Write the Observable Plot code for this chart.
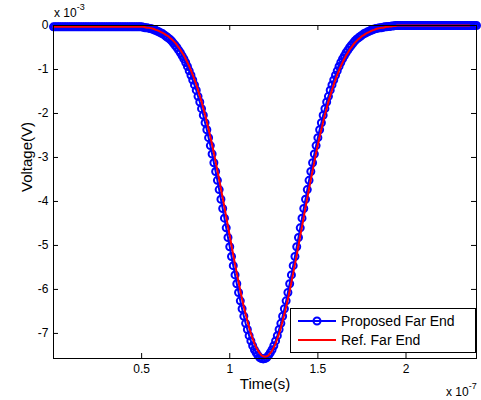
<!DOCTYPE html>
<html><head><meta charset="utf-8">
<script src="https://cdn.jsdelivr.net/npm/d3@7"></script>
<script src="https://cdn.jsdelivr.net/npm/@observablehq/plot@0.6"></script>
<style>body{margin:0;background:#fff;}</style>
</head><body><div id="chart"></div>
<script>
// sample times in ns (1 ns step, 0..240 ns)
const timeNs = d3.range(0, 241);
// Proposed Far End, mV
const proposedMV = [
-0.03,-0.03,-0.03,-0.03,-0.03,-0.03,-0.03,-0.03,-0.03,-0.03,
-0.03,-0.03,-0.03,-0.03,-0.03,-0.03,-0.03,-0.03,-0.03,-0.03,
-0.03,-0.03,-0.03,-0.03,-0.03,-0.03,-0.03,-0.03,-0.03,-0.03,
-0.03,-0.03,-0.03,-0.03,-0.03,-0.03,-0.03,-0.03,-0.03,-0.03,
-0.03,-0.03,-0.03,-0.03,-0.03,-0.03,-0.03,-0.03,-0.03,
-0.03,-0.03,-0.04,-0.05,-0.05,-0.06,-0.07,-0.08,-0.10,-0.11,
-0.13,-0.15,-0.17,-0.19,-0.22,-0.25,-0.28,-0.31,-0.35,-0.40,
-0.45,-0.50,-0.56,-0.62,-0.69,-0.76,-0.84,-0.93,-1.03,-1.13,
-1.24,-1.35,-1.47,-1.61,-1.74,-1.89,-2.04,-2.21,-2.37,-2.55,
-2.73,-2.92,-3.12,-3.32,-3.52,-3.73,-3.95,-4.16,-4.38,-4.60,
-4.82,-5.03,-5.25,-5.46,-5.67,-5.87,-6.07,-6.26,-6.44,-6.61,
-6.77,-6.91,-7.05,-7.17,-7.28,-7.37,-7.44,-7.50,-7.55,-7.57,
-7.58,
-7.57,-7.55,-7.50,-7.44,-7.37,-7.28,-7.17,-7.05,-6.91,-6.77,
-6.61,-6.44,-6.26,-6.07,-5.87,-5.67,-5.46,-5.25,-5.03,-4.82,
-4.60,-4.38,-4.16,-3.95,-3.73,-3.52,-3.32,-3.12,-2.92,-2.73,
-2.55,-2.37,-2.21,-2.04,-1.89,-1.74,-1.61,-1.47,-1.35,-1.24,
-1.13,-1.03,-0.93,-0.84,-0.76,-0.69,-0.62,-0.56,-0.50,-0.45,
-0.40,-0.35,-0.31,-0.28,-0.25,-0.22,-0.19,-0.17,-0.15,-0.13,
-0.11,-0.10,-0.08,-0.07,-0.06,-0.05,-0.05,-0.04,-0.03,-0.03,
-0.02,-0.02,-0.01,-0.01,0,0,0,0,0,0,
0,0,0,0,0,0,0,0,0,0,
0,0,0,0,0,0,0,0,0,0,
0,0,0,0,0,0,0,0,0,0,
0,0,0,0,0,0,0,0,0,0,
0
];
// Ref. Far End, mV
const refMV = [
-0.03,-0.03,-0.03,-0.03,-0.03,-0.03,-0.03,-0.03,-0.03,-0.03,
-0.03,-0.03,-0.03,-0.03,-0.03,-0.03,-0.03,-0.03,-0.03,-0.03,
-0.03,-0.03,-0.03,-0.03,-0.03,-0.03,-0.03,-0.03,-0.03,-0.03,
-0.03,-0.03,-0.03,-0.03,-0.03,-0.03,-0.03,-0.03,-0.03,-0.03,
-0.03,-0.03,-0.03,-0.03,-0.03,-0.03,-0.03,-0.03,-0.03,-0.03,
-0.03,-0.03,-0.04,-0.05,-0.05,-0.06,-0.07,-0.08,-0.10,-0.11,
-0.13,-0.15,-0.17,-0.19,-0.22,-0.24,-0.28,-0.31,-0.35,-0.39,
-0.44,-0.50,-0.55,-0.62,-0.68,-0.76,-0.84,-0.93,-1.02,-1.12,
-1.23,-1.34,-1.47,-1.60,-1.73,-1.88,-2.03,-2.19,-2.36,-2.53,
-2.71,-2.90,-3.10,-3.30,-3.50,-3.71,-3.92,-4.13,-4.35,-4.57,
-4.78,-5.00,-5.22,-5.43,-5.63,-5.83,-6.03,-6.22,-6.40,-6.56,
-6.72,-6.87,-7.00,-7.12,-7.23,-7.32,-7.39,-7.45,-7.50,-7.52,
-7.53,
-7.52,-7.50,-7.45,-7.39,-7.32,-7.23,-7.12,-7.00,-6.87,-6.72,
-6.56,-6.40,-6.22,-6.03,-5.83,-5.63,-5.43,-5.22,-5.00,-4.78,
-4.57,-4.35,-4.13,-3.92,-3.71,-3.50,-3.30,-3.10,-2.90,-2.71,
-2.53,-2.36,-2.19,-2.03,-1.88,-1.73,-1.60,-1.47,-1.34,-1.23,
-1.12,-1.02,-0.93,-0.84,-0.76,-0.68,-0.62,-0.55,-0.50,-0.44,
-0.39,-0.35,-0.31,-0.28,-0.24,-0.22,-0.19,-0.17,-0.15,-0.13,
-0.11,-0.10,-0.08,-0.07,-0.06,-0.05,-0.05,-0.04,-0.03,-0.03,
-0.02,-0.02,-0.01,-0.01,0,0,0,0,0,0,
0,0,0,0,0,0,0,0,0,0,
0,0,0,0,0,0,0,0,0,0,
0,0,0,0,0,0,0,0,0,0,
0,0,0,0,0,0
];
const xTicks = [0.5, 1, 1.5, 2];            // x 10^-7 s
const yTicks = [0, -1, -2, -3, -4, -5, -6, -7]; // x 10^-3 V
const seriesNames = ["Proposed Far End", "Ref. Far End"];
const seriesColors = ["#0000ff", "#ff0000"];
const xLabel = "Time(s)";
const yLabel = "Voltage(V)";

const proposed = timeNs.map((t, i) => ({t: t * 1e-9, v: proposedMV[i] * 1e-3}));
const ref = timeNs.map((t, i) => ({t: t * 1e-9, v: refMV[i] * 1e-3}));

const W = 481, H = 400, mt = 25, mr = 5, mb = 42, ml = 53;
const ph = H - mt - mb, pw = W - ml - mr;
const font = "'Liberation Sans', Arial, Helvetica, sans-serif";

const chart = Plot.plot({
  width: W, height: H,
  marginTop: mt, marginRight: mr, marginBottom: mb, marginLeft: ml,
  style: {fontFamily: font, fontSize: "12px", color: "black", background: "white", overflow: "visible"},
  x: {domain: [0, 2.4e-7], label: null},
  y: {domain: [-7.57e-3, 0], label: null},
  marks: [
    Plot.tickX(xTicks, {x: d => d * 1e-7, insetTop: ph - 5, stroke: "black"}),
    Plot.tickX(xTicks, {x: d => d * 1e-7, insetBottom: ph - 5, stroke: "black"}),
    Plot.tickY(yTicks, {y: d => d * 1e-3, insetRight: pw - 5, stroke: "black"}),
    Plot.tickY(yTicks, {y: d => d * 1e-3, insetLeft: pw - 5, stroke: "black"}),
    Plot.axisX(xTicks.map(d => d * 1e-7), {tickSize: 0, tickPadding: 6, fontSize: 12,
      tickFormat: d => String(+(d * 1e7).toFixed(2)), label: null}),
    Plot.axisY(yTicks.map(d => d * 1e-3), {tickSize: 0, tickPadding: 5, fontSize: 12,
      tickFormat: d => String(Math.round(d * 1e3)), label: null}),
    Plot.line(proposed, {x: "t", y: "v", stroke: seriesColors[0], strokeWidth: 2}),
    Plot.dot(proposed, {x: "t", y: "v", r: 3.5, stroke: seriesColors[0], strokeWidth: 2, fill: "none"}),
    Plot.line(ref, {x: "t", y: "v", stroke: seriesColors[1], strokeWidth: 2}),
    Plot.frame({stroke: "black", strokeWidth: 1}),
    Plot.text([xLabel], {frameAnchor: "bottom", dy: 30, fontSize: 15}),
    Plot.text([yLabel], {frameAnchor: "left", dx: -26, rotate: -90, fontSize: 15})
  ]
});

const svg = d3.select(chart);
// exponent annotations
function expo(x, y, base, sup) {
  const t = svg.append("text").attr("x", x).attr("y", y).attr("text-anchor", "start")
    .attr("font-family", font).attr("font-size", 12).attr("fill", "black");
  t.append("tspan").text(base);
  t.append("tspan").attr("font-size", 9).attr("dy", -7).text(sup);
}
expo(ml + 1, 17, "x 10", "-3");
expo(W - 35, 396, "x 10", "-7");

// legend
const lx = W - mr - 186, ly = H - mb - 50;
const lg = svg.append("g");
lg.append("rect").attr("x", lx + 0.5).attr("y", ly + 0.5).attr("width", 185).attr("height", 44)
  .attr("fill", "white").attr("stroke", "black");
seriesNames.forEach((name, i) => {
  const yy = ly + 13 + i * 19;
  lg.append("line").attr("x1", lx + 8).attr("x2", lx + 46).attr("y1", yy).attr("y2", yy)
    .attr("stroke", seriesColors[i]).attr("stroke-width", 2);
  if (i === 0) lg.append("circle").attr("cx", lx + 27).attr("cy", yy).attr("r", 3.5)
    .attr("fill", "none").attr("stroke", seriesColors[i]).attr("stroke-width", 2);
  lg.append("text").attr("x", lx + 51).attr("y", yy + 5).attr("text-anchor", "start")
    .attr("font-family", font).attr("font-size", 14).attr("fill", "black").text(name);
});

document.getElementById("chart").appendChild(chart);
</script>
</body></html>
